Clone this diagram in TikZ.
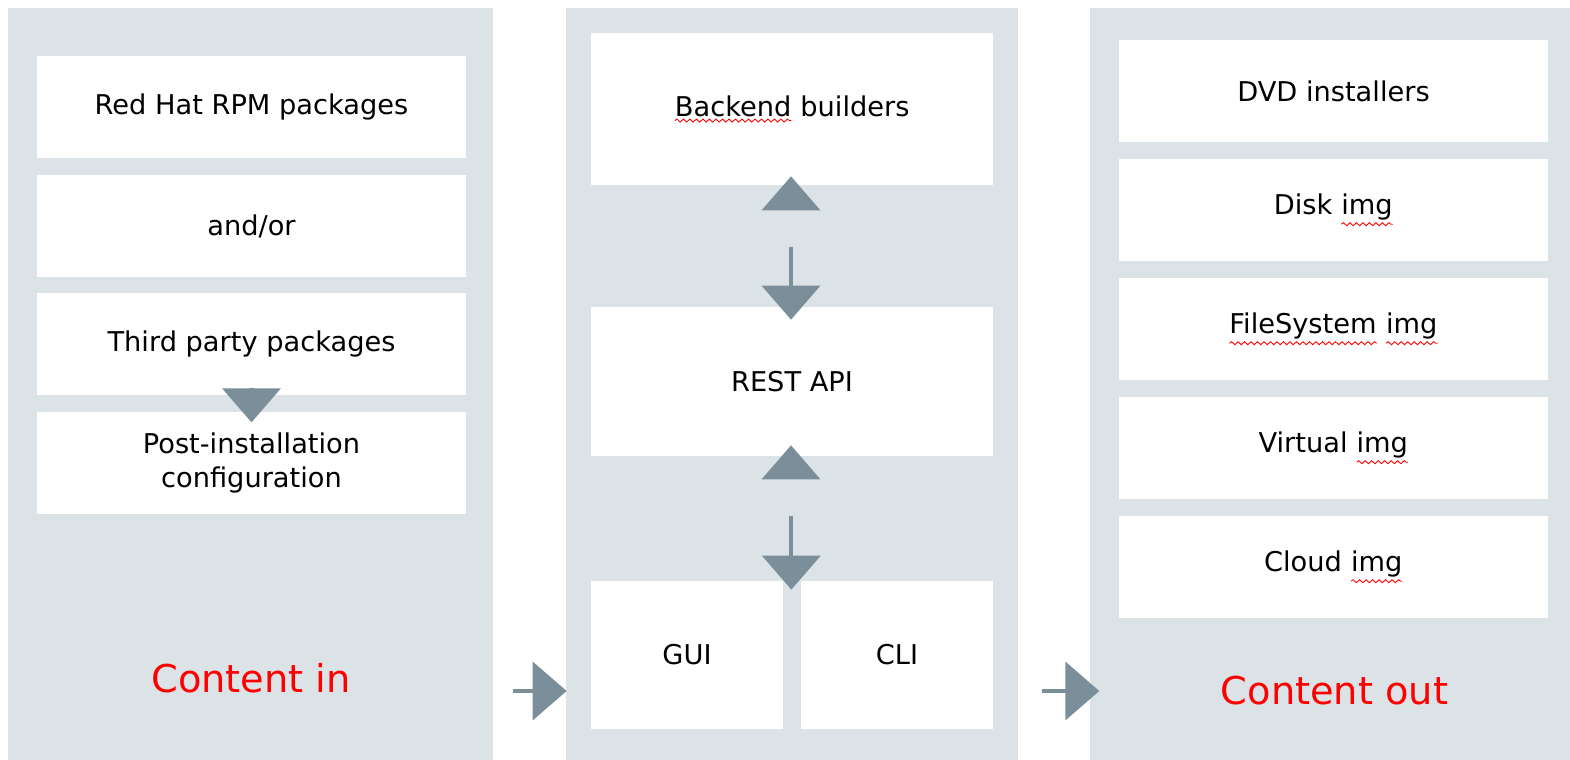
\documentclass[tikz,border=0pt]{standalone}
\usepackage{fontspec}
\setmainfont{DejaVu Sans}
\usetikzlibrary{arrows.meta,calc,decorations.pathmorphing}

\definecolor{panelgray}{HTML}{DCE3E7}
\definecolor{arrowgray}{HTML}{7A8F9A}
\definecolor{labelred}{HTML}{FF0000}

% red wavy underline of the spell checker
\newcommand{\wavy}[1]{\tikz[baseline=(w.base)]{\node[inner sep=0pt,outer sep=0pt,minimum width=0pt,minimum height=0pt,fill=none] (w) {#1};
  \draw[labelred,line width=0.5pt,decorate,decoration={snake,amplitude=0.3mm,segment length=1.3mm}]
    ([yshift=-0.8mm]w.south west) -- ([yshift=-0.8mm]w.south east);}}

\begin{document}
\begin{tikzpicture}
[
    x=0.02cm, y=-0.02cm,
    panel/.style={fill=panelgray},
    box/.style={fill=white,inner sep=0pt,align=center,font=\fontsize{15.5}{19}\selectfont},
    leftbox/.style={box,minimum width=8.58cm,minimum height=2.04cm},
    midbox/.style={box,minimum width=8.04cm},
    smallbox/.style={box,minimum width=3.84cm,minimum height=2.96cm},
    title/.style={text=labelred,font=\fontsize{21.8}{26}\selectfont},
    tri/.style={draw=arrowgray,line width=2.3pt,-{Triangle[length=0.68cm,width=1.16cm]}}
  ]
  \useasboundingbox (0,0) rectangle (1570,760);

  % the three columns
  \fill[panel] (8,8) rectangle (493,760);
  \fill[panel] (566,8) rectangle (1018,760);
  \fill[panel] (1090,8) rectangle (1570,760);

  % content in
  \node[leftbox] (rpm) at (251.5,107) {Red Hat RPM packages};
  \node[leftbox] (andor) at (251.5,226) {and/or};
  \node[leftbox] (third) at (251.5,344) {Third party packages};
  \node[leftbox] (post) at (251.5,463) {Post-installation\\configuration};
  \node[title] (cin) at (251,678) {Content in};

  % image builder
  \node[midbox,minimum height=3.04cm] (backend) at (792,109) {\wavy{Backend} builders};
  \node[midbox,minimum height=2.98cm] (rest) at (792,381.5) {REST API};
  \node[smallbox] (gui) at (687,655) {GUI};
  \node[smallbox] (cli) at (897,655) {CLI};

  % content out
  \node[leftbox] (dvd) at (1333.5,91) {DVD installers};
  \node[leftbox] (disk) at (1333.5,210) {Disk \wavy{img}};
  \node[leftbox] (fs) at (1333.5,329) {\wavy{FileSystem} \wavy{img}};
  \node[leftbox] (virt) at (1333.5,448) {Virtual \wavy{img}};
  \node[leftbox] (cloud) at (1333.5,567) {Cloud \wavy{img}};
  \node[title] (cout) at (1334.5,691) {Content out};

  % arrows
  \draw[tri] ($(third.south)+(0,-7)$) -- ($(third.south)+(0,27)$);
  \draw[tri] ($(backend.south)+(-1,25)$) -- ($(backend.south)+(-1,-9)$);
  \draw[tri] ($(rest.north)+(-1,-60)$) -- ($(rest.north)+(-1,13)$);
  \draw[tri] ($(rest.south)+(-1,23)$) -- ($(rest.south)+(-1,-11)$);
  \draw[tri] ($(gui.north east)+(8,-65)$) -- ($(gui.north east)+(8,9)$);
  \draw[tri] ($(gui.west)+(-78,36)$) -- ($(gui.west)+(-24,36)$);
  \draw[tri] ($(cli.east)+(49,36)$) -- ($(cli.east)+(106,36)$);
\end{tikzpicture}
\end{document}
